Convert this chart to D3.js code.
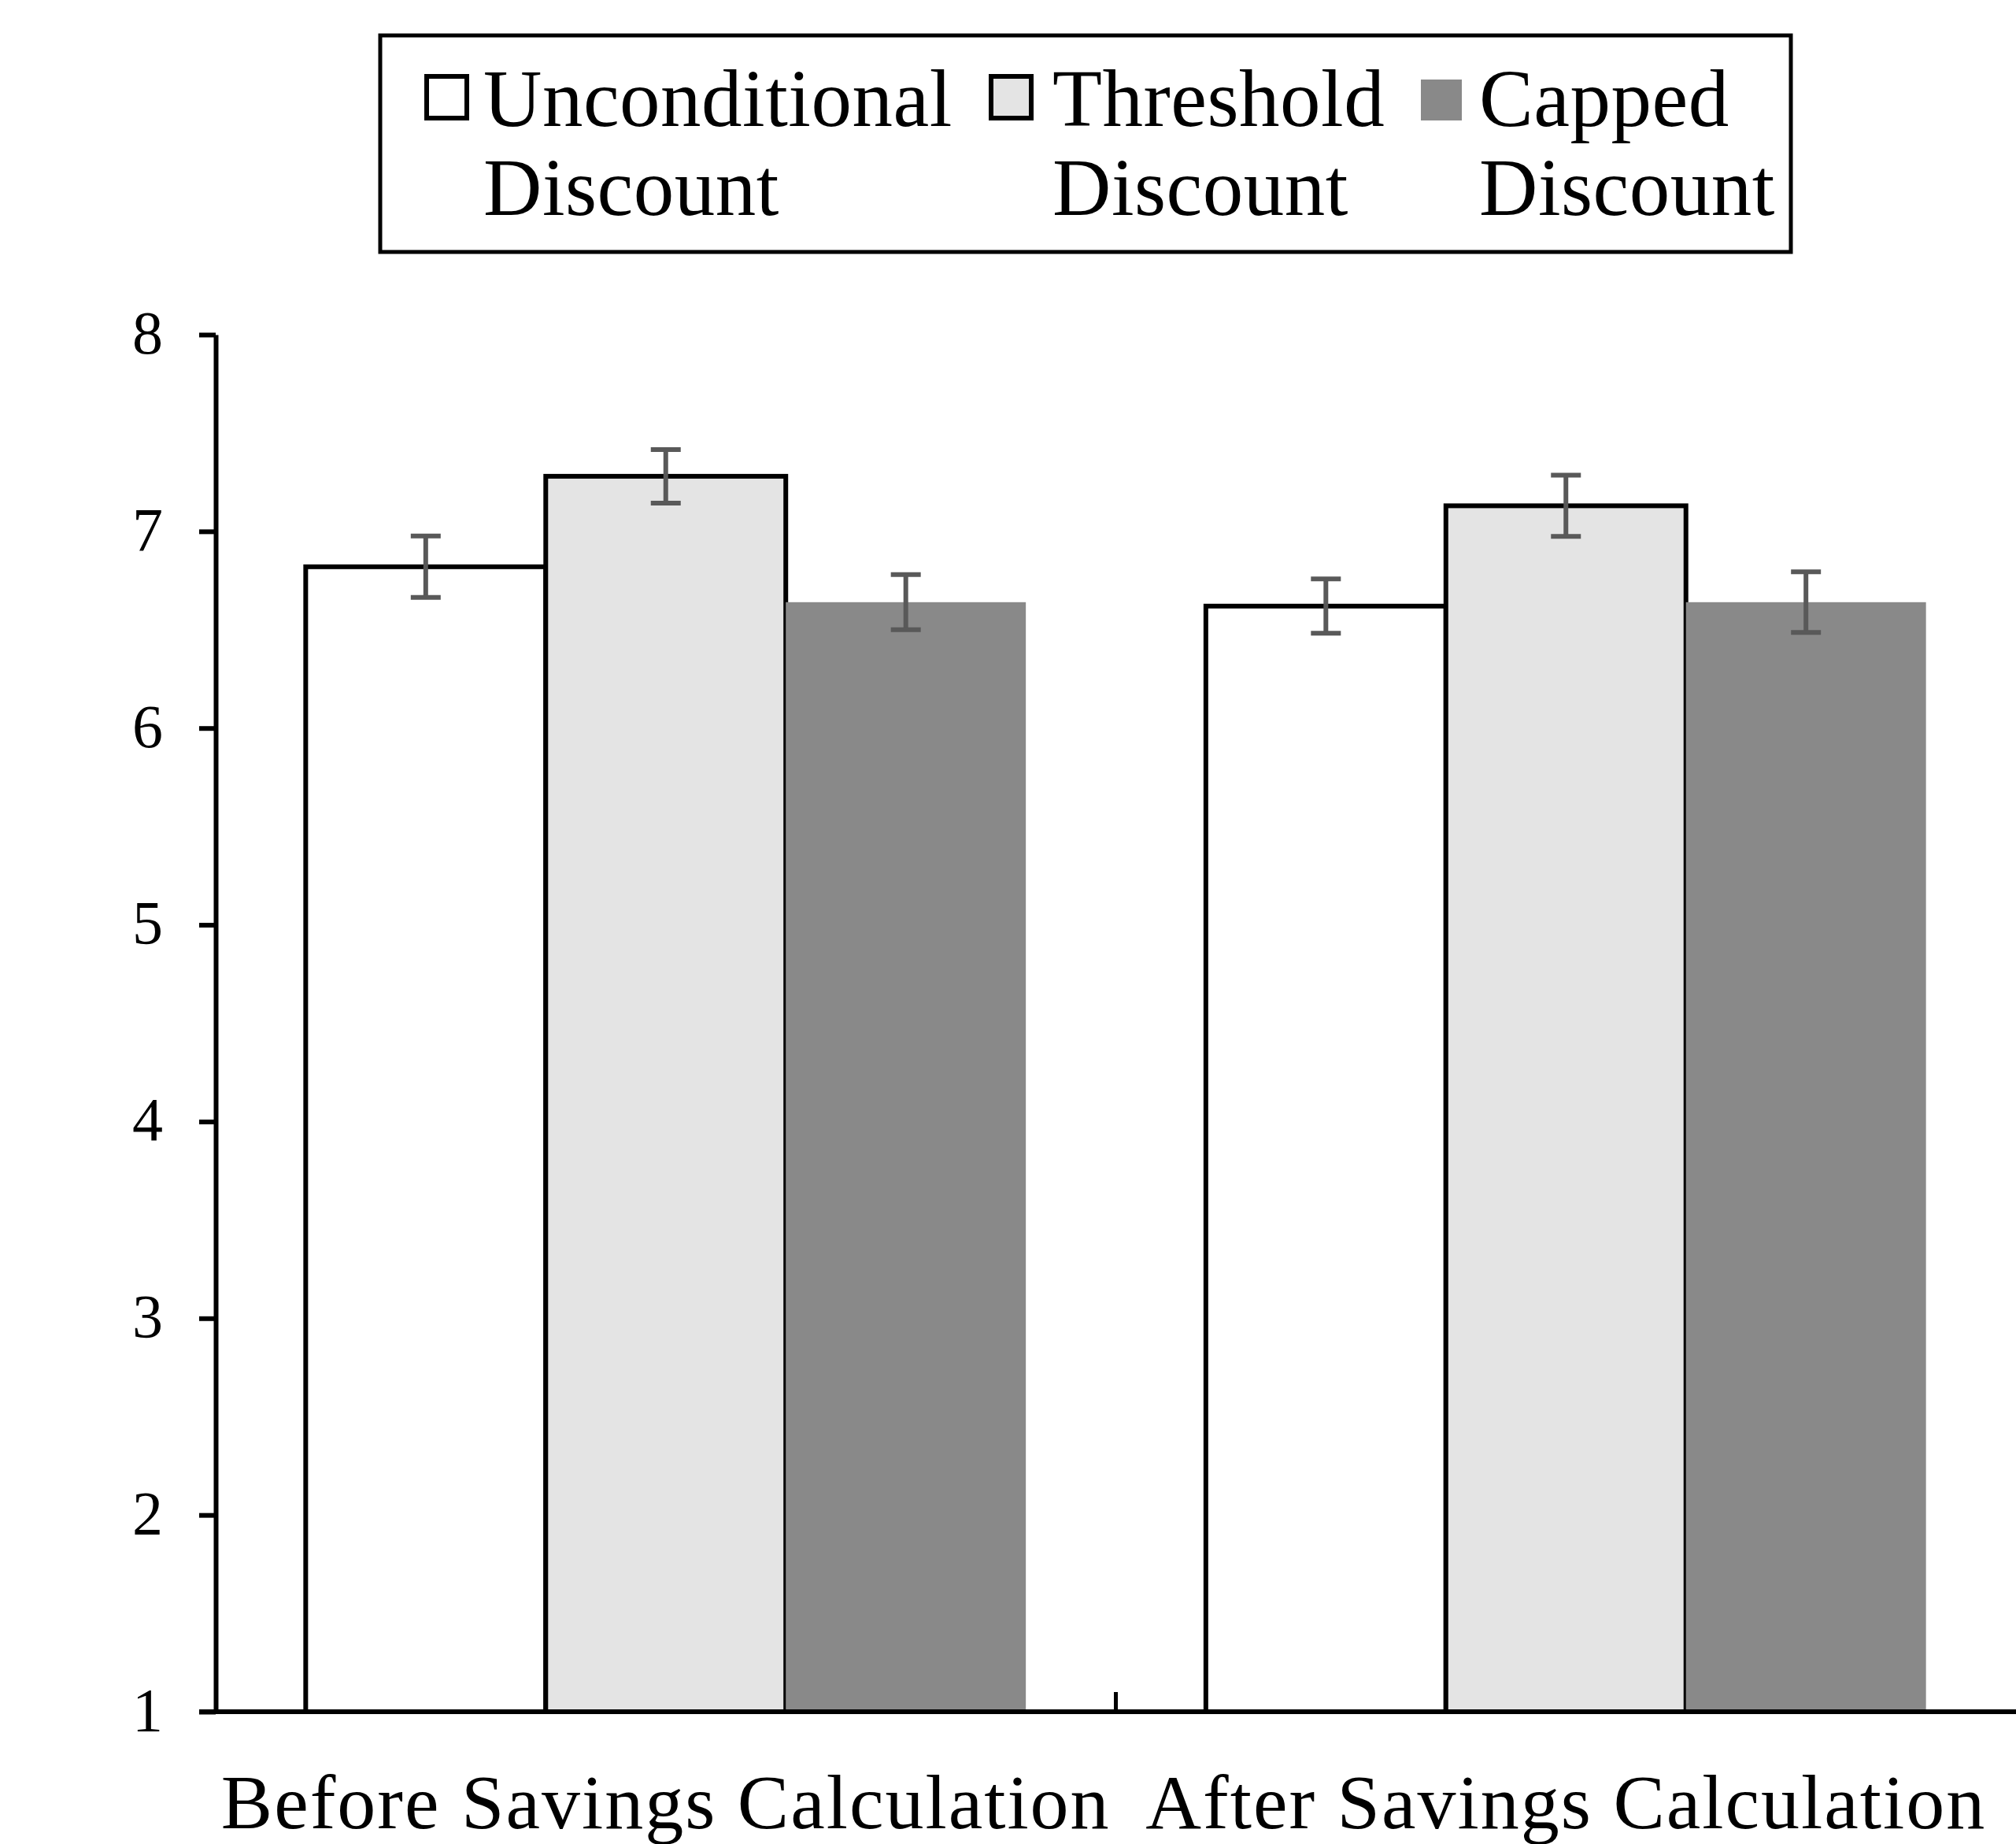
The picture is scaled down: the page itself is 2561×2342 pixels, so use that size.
<!DOCTYPE html>
<html>
<head>
<meta charset="utf-8">
<script src="https://cdn.jsdelivr.net/npm/d3@7"></script>
<style>
  body { margin: 0; background: #fff; }
  text { font-family: "Liberation Serif", "Times New Roman", serif; fill: #000; }
</style>
</head>
<body>
<div id="chart"></div>
<script>
// Data
const categories = ["Before Savings Calculation", "After Savings Calculation"];
const seriesNames = ["Unconditional Discount", "Threshold Discount", "Capped Discount"];
const legendLines = [["Unconditional", "Discount"], ["Threshold", "Discount"], ["Capped", "Discount"]];
const unconditional = [6.82, 6.62];
const threshold = [7.28, 7.13];
const capped = [6.64, 6.64];
const unconditionalErr = [0.156, 0.138];
const thresholdErr = [0.136, 0.156];
const cappedErr = [0.14, 0.154];
const yTicks = [1, 2, 3, 4, 5, 6, 7, 8];

const seriesValues = [unconditional, threshold, capped];
const seriesErrors = [unconditionalErr, thresholdErr, cappedErr];
const fills = ["#ffffff", "#e4e4e4", "#898989"];
const strokes = ["#000", "#000", "none"];

const chartWidth = 2561;
const chartHeight = 2342;

const svg = d3.select("#chart")
    .append("svg")
    .attr("width", chartWidth)
    .attr("height", chartHeight);

const x0 = d3.scaleBand()
    .domain(categories)
    .range([274, chartWidth]);

const x1 = d3.scaleBand()
    .domain(seriesNames)
    .range([0, x0.bandwidth()])
    .paddingOuter(0.375);

const y = d3.scaleLinear()
    .domain([1, 8])
    .range([2174, 425]);

const rows = [];
categories.forEach((c, i) => seriesNames.forEach((s, j) => {
    rows.push({cat: c, series: s, k: j, value: seriesValues[j][i], err: seriesErrors[j][i]});
}));

// bars
svg.append("g").selectAll("rect")
    .data(rows)
    .join("rect")
    .attr("x", d => x0(d.cat) + x1(d.series))
    .attr("y", d => y(d.value))
    .attr("width", x1.bandwidth())
    .attr("height", d => y(1) - y(d.value))
    .attr("fill", d => fills[d.k])
    .attr("stroke", d => strokes[d.k])
    .attr("stroke-width", 6);

// error bars
const eb = svg.append("g").attr("stroke", "#595959").attr("stroke-width", 6);
rows.forEach(d => {
    const cx = x0(d.cat) + x1(d.series) + x1.bandwidth() / 2;
    eb.append("line").attr("x1", cx).attr("x2", cx)
        .attr("y1", y(d.value + d.err)).attr("y2", y(d.value - d.err));
    [d.value + d.err, d.value - d.err].forEach(v => {
        eb.append("line").attr("x1", cx - 19).attr("x2", cx + 19)
            .attr("y1", y(v)).attr("y2", y(v));
    });
});

// y axis
const yAxis = d3.axisLeft(y)
    .tickValues(yTicks)
    .tickFormat(d3.format("d"))
    .tickSize(21)
    .tickSizeOuter(0)
    .tickPadding(46);

const gy = svg.append("g")
    .attr("transform", "translate(274,0)")
    .call(yAxis);
gy.select(".domain").attr("stroke", "#000").attr("stroke-width", 6);
gy.selectAll(".tick line").attr("stroke", "#000").attr("stroke-width", 6);
gy.selectAll(".tick text")
    .attr("font-size", 78)
    .attr("font-family", "Liberation Serif")
    .attr("fill", "#000")
    .attr("dy", "0.3em");

// x axis
svg.append("line")
    .attr("x1", 274 - 21).attr("x2", chartWidth)
    .attr("y1", y(1)).attr("y2", y(1))
    .attr("stroke", "#000").attr("stroke-width", 6);

svg.append("g").selectAll("line")
    .data(categories.slice(1))
    .join("line")
    .attr("x1", d => x0(d)).attr("x2", d => x0(d))
    .attr("y1", y(1)).attr("y2", y(1) - 25)
    .attr("stroke", "#000").attr("stroke-width", 5);

svg.append("g").selectAll("text")
    .data(categories)
    .join("text")
    .attr("x", d => x0(d) + x0.bandwidth() / 2)
    .attr("y", y(1) + 148)
    .attr("text-anchor", "middle")
    .attr("font-size", 98)
    .attr("letter-spacing", 2)
    .text(d => d);

// legend
svg.append("rect")
    .attr("x", 483).attr("y", 45)
    .attr("width", 1792).attr("height", 275)
    .attr("fill", "#fff")
    .attr("stroke", "#000")
    .attr("stroke-width", 5);

const legendX = [540, 1257, 1805];
const lg = svg.append("g").selectAll("g")
    .data(seriesNames)
    .join("g")
    .attr("transform", (d, i) => `translate(${legendX[i]},0)`);

lg.append("rect")
    .attr("x", (d, i) => i === 2 ? 0 : 2)
    .attr("y", (d, i) => i === 2 ? 101 : 97)
    .attr("width", (d, i) => i === 2 ? 52 : 51)
    .attr("height", (d, i) => i === 2 ? 52 : 53)
    .attr("fill", (d, i) => fills[i])
    .attr("stroke", (d, i) => strokes[i])
    .attr("stroke-width", 6);

lg.each(function(d, i) {
    const g = d3.select(this);
    legendLines[i].forEach((t, j) => {
        g.append("text")
            .attr("x", i === 1 ? 80 : 74)
            .attr("y", 160 + j * 113)
            .attr("font-size", 103)
            .attr("letter-spacing", 0.5)
            .text(t);
    });
});
</script>
</body>
</html>
